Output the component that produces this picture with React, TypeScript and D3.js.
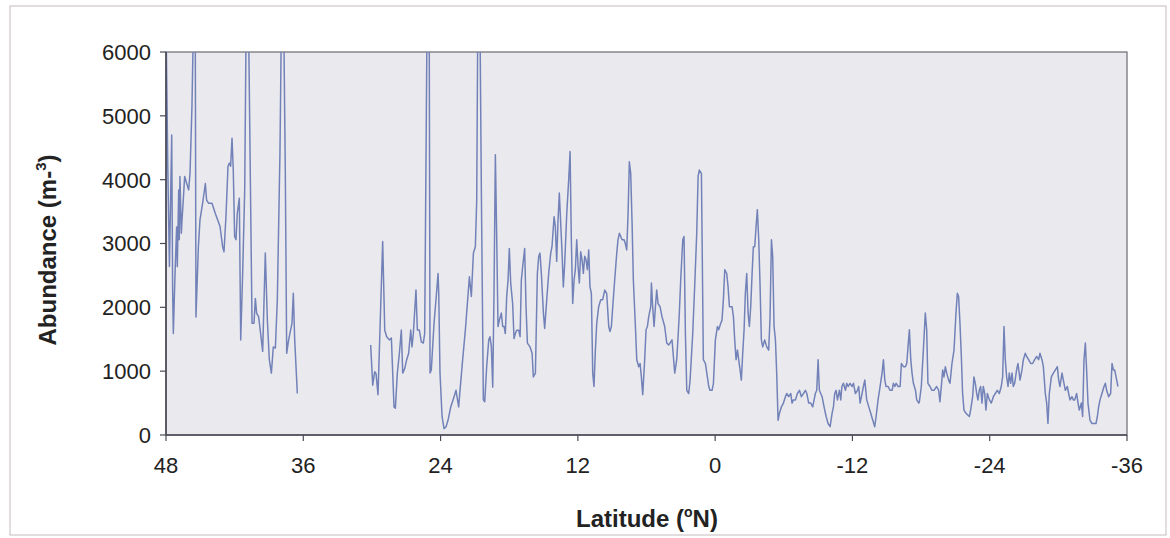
import React from "react";
import * as d3 from "d3";

// Latitude (°N) and abundance (m-3) readings, northern leg (before the gap)
const northLeg: [number, number][] = [
  [48.0, 6500], [47.84, 4150], [47.7, 2640], [47.5, 4700], [47.42, 2270], [47.36, 1590],
  [47.21, 2530], [47.07, 3260], [47.01, 2640], [46.89, 3840], [46.84, 3060], [46.78, 4050],
  [46.66, 3160], [46.6, 3370], [46.49, 3680], [46.37, 4050], [46.19, 3940], [46.02, 3840],
  [45.9, 4100], [45.73, 5150], [45.55, 7000], [45.45, 7000], [45.38, 1850], [45.17, 2950],
  [45.03, 3370], [44.8, 3630], [44.56, 3940], [44.45, 3680], [44.27, 3630], [43.98, 3630],
  [43.69, 3470], [43.28, 3270], [43.05, 2950], [42.93, 2870], [42.76, 3420], [42.58, 4210],
  [42.46, 4260], [42.35, 4210], [42.23, 4650], [42.12, 4150], [42.0, 3110], [41.88, 3060],
  [41.77, 3470], [41.59, 3710], [41.47, 1490], [41.3, 2530], [41.12, 3840], [40.97, 7000],
  [40.82, 7000], [40.48, 1750], [40.31, 1750], [40.19, 2140], [40.08, 1910], [39.9, 1850],
  [39.73, 1590], [39.55, 1310], [39.32, 2850], [39.14, 1800], [38.97, 1180], [38.79, 970],
  [38.62, 1380], [38.44, 1360], [38.27, 2120], [38.04, 4410], [37.88, 7000], [37.74, 7000],
  [37.57, 4100], [37.45, 1280], [37.28, 1490], [36.99, 1750], [36.87, 2220], [36.75, 1490],
  [36.52, 650],
];

// Main leg: 30°N to 20°N
const legA: [number, number][] = [
  [30.11, 1410], [29.93, 780], [29.76, 990], [29.64, 960], [29.47, 630], [29.06, 3030],
  [28.88, 1640], [28.71, 1540], [28.48, 1490], [28.3, 1520], [28.07, 440], [27.95, 420],
  [27.78, 970], [27.6, 1280], [27.43, 1645], [27.31, 970], [27.14, 1040], [26.96, 1180],
  [26.79, 1280], [26.61, 1645], [26.5, 1380], [26.38, 1590], [26.15, 2270], [26.03, 1645],
  [25.86, 1645], [25.68, 1460], [25.51, 1440], [25.39, 1590], [25.16, 7000], [25.0, 7000],
  [24.92, 970], [24.81, 1020], [24.57, 1750], [24.4, 2120], [24.22, 2530], [24.16, 2220],
  [24.05, 970], [23.87, 290], [23.7, 100], [23.52, 130], [23.35, 230], [23.11, 440],
  [22.82, 600], [22.65, 700], [22.42, 440], [22.3, 700], [22.07, 1180], [21.83, 1650],
  [21.48, 2480], [21.31, 2170], [21.13, 2850], [20.96, 2950], [20.84, 3680], [20.73, 7000],
  [20.58, 7000], [20.43, 3730], [20.26, 550], [20.14, 520],
];

// Main leg: 20°N to the equator
const legB: [number, number][] = [
  [19.97, 1070], [19.79, 1490], [19.68, 1540], [19.56, 1380], [19.44, 750], [19.33, 2220],
  [19.21, 4390], [19.09, 3060], [18.98, 1700], [18.86, 1800], [18.69, 1910], [18.57, 1700],
  [18.45, 1700], [18.34, 1590], [18.22, 2170], [18.1, 2430], [17.99, 2920], [17.87, 2380],
  [17.7, 2060], [17.58, 1510], [17.46, 1590], [17.35, 1640], [17.17, 1640], [17.05, 1540],
  [16.94, 2430], [16.82, 2640], [16.65, 2920], [16.53, 2010], [16.41, 1440], [16.18, 1380],
  [16.0, 1280], [15.89, 910], [15.71, 970], [15.54, 2530], [15.42, 2800], [15.31, 2850],
  [15.19, 2530], [15.01, 1910], [14.9, 1670], [14.72, 2120], [14.55, 2530], [14.37, 2850],
  [14.26, 2950], [14.08, 3420], [13.97, 3270], [13.85, 2720], [13.73, 3370], [13.62, 3790],
  [13.5, 3320], [13.38, 2850], [13.27, 2320], [13.15, 2690], [12.97, 3470], [12.8, 4000],
  [12.68, 4440], [12.57, 3060], [12.45, 2060], [12.33, 2430], [12.22, 2590], [12.1, 3060],
  [11.98, 2640], [11.87, 2380], [11.75, 2870], [11.63, 2740], [11.52, 2530], [11.4, 2800],
  [11.28, 2740], [11.17, 2590], [11.05, 2900], [10.94, 2320], [10.82, 2220], [10.7, 970],
  [10.59, 760], [10.47, 1330], [10.35, 1750], [10.18, 2010], [10.0, 2120], [9.83, 2120],
  [9.65, 2270], [9.48, 2220], [9.3, 1700], [9.19, 1620], [9.07, 1700], [8.95, 2010],
  [8.78, 2430], [8.6, 2850], [8.49, 3060], [8.37, 3160], [8.25, 3110], [8.14, 3060],
  [7.96, 3060], [7.85, 3000], [7.73, 2900], [7.61, 3470], [7.5, 4280], [7.38, 4100],
  [7.26, 3320], [7.15, 2430], [6.97, 1700], [6.85, 1180], [6.68, 1070], [6.56, 1120],
  [6.45, 910], [6.33, 630], [6.16, 1180], [6.04, 1650], [5.92, 1700], [5.81, 1850],
  [5.63, 2010], [5.57, 2380], [5.46, 2010], [5.34, 1700], [5.22, 2010], [5.11, 2270],
  [4.99, 2060], [4.82, 2010], [4.64, 1850], [4.41, 1700], [4.23, 1440], [4.06, 1410],
  [3.88, 1460], [3.77, 1490], [3.65, 1230], [3.53, 970], [3.36, 1180], [3.24, 1540],
  [3.13, 1910], [3.01, 2430], [2.83, 3060], [2.72, 3110], [2.6, 1590], [2.48, 700],
  [2.31, 650], [2.19, 860], [1.96, 1590], [1.79, 2320], [1.61, 3160], [1.49, 4050],
  [1.38, 4150], [1.2, 4100], [1.03, 1180], [0.85, 1120], [0.68, 910], [0.56, 760],
  [0.45, 700], [0.27, 700], [0.15, 810],
];

// Main leg: equator to 17°S
const legC: [number, number][] = [
  [-0.02, 1490], [-0.2, 1700], [-0.31, 1650], [-0.49, 1750], [-0.6, 1800], [-0.72, 2120],
  [-0.84, 2590], [-1.01, 2530], [-1.13, 2320], [-1.25, 2010], [-1.3, 2010], [-1.48, 2010],
  [-1.6, 1850], [-1.71, 1490], [-1.83, 1180], [-1.95, 1330], [-2.06, 1180], [-2.18, 1020],
  [-2.29, 860], [-2.41, 1280], [-2.53, 1650], [-2.64, 2220], [-2.76, 2530], [-2.88, 1910],
  [-2.99, 1700], [-3.11, 2010], [-3.23, 2530], [-3.34, 2950], [-3.46, 2950], [-3.58, 3270],
  [-3.69, 3530], [-3.81, 3060], [-3.93, 2320], [-4.04, 1490], [-4.16, 1380], [-4.33, 1490],
  [-4.51, 1380], [-4.68, 1330], [-4.8, 1850], [-4.92, 3060], [-5.03, 2800], [-5.15, 1700],
  [-5.27, 1490], [-5.38, 970], [-5.5, 230], [-5.62, 340], [-5.79, 440], [-5.97, 500],
  [-6.14, 600], [-6.26, 650], [-6.43, 600], [-6.61, 650], [-6.72, 500], [-6.84, 550],
  [-7.02, 550], [-7.19, 650], [-7.37, 700], [-7.54, 600], [-7.72, 650], [-7.89, 700],
  [-8.01, 650], [-8.18, 500], [-8.36, 500], [-8.53, 440], [-8.76, 650], [-8.88, 700],
  [-9.0, 1180], [-9.11, 700], [-9.23, 650], [-9.35, 600], [-9.52, 440], [-9.7, 290],
  [-9.87, 180], [-10.05, 130], [-10.22, 340], [-10.34, 440], [-10.45, 650], [-10.57, 700],
  [-10.69, 550], [-10.86, 700], [-10.98, 550], [-11.08, 760], [-11.21, 810], [-11.39, 700],
  [-11.5, 810], [-11.62, 760], [-11.79, 810], [-11.97, 760], [-12.09, 810], [-12.26, 650],
  [-12.44, 700], [-12.55, 760], [-12.67, 500], [-12.79, 600], [-12.96, 760], [-13.08, 860],
  [-13.25, 550], [-13.43, 440], [-13.6, 340], [-13.78, 230], [-13.95, 130], [-14.07, 290],
  [-14.24, 550], [-14.42, 760], [-14.59, 970], [-14.71, 1180], [-14.83, 860], [-14.94, 760],
  [-15.12, 760], [-15.29, 700], [-15.47, 700], [-15.58, 810], [-15.7, 760], [-15.82, 810],
  [-15.99, 760], [-16.17, 760], [-16.28, 1120], [-16.46, 1070], [-16.63, 1070], [-16.75, 1120],
  [-16.86, 1380], [-16.98, 1650],
];

// Main leg: 17°S to 35°S
const legD: [number, number][] = [
  [-17.1, 1180], [-17.21, 970], [-17.33, 810], [-17.51, 700], [-17.62, 550], [-17.8, 500],
  [-17.85, 520], [-18.02, 760], [-18.2, 1330], [-18.37, 1910], [-18.49, 1650], [-18.6, 810],
  [-18.78, 760], [-18.95, 700], [-19.13, 700], [-19.36, 760], [-19.54, 700], [-19.65, 520],
  [-19.77, 760], [-19.89, 1020], [-20.0, 910], [-20.12, 1070], [-20.24, 970], [-20.41, 860],
  [-20.53, 810], [-20.7, 1120], [-20.88, 1330], [-21.05, 1910], [-21.17, 2220], [-21.28, 2170],
  [-21.4, 1750], [-21.52, 1230], [-21.63, 650], [-21.75, 390], [-21.93, 340], [-22.1, 310],
  [-22.22, 290], [-22.33, 390], [-22.51, 600], [-22.62, 910], [-22.74, 810], [-22.86, 650],
  [-22.97, 550], [-23.09, 700], [-23.21, 760], [-23.32, 500], [-23.44, 760], [-23.56, 650],
  [-23.67, 390], [-23.79, 650], [-23.97, 550], [-24.14, 500], [-24.32, 600], [-24.49, 650],
  [-24.66, 700], [-24.84, 650], [-25.01, 760], [-25.13, 910], [-25.25, 1700], [-25.36, 1180],
  [-25.48, 910], [-25.6, 760], [-25.71, 970], [-25.83, 810], [-25.95, 970], [-26.06, 760],
  [-26.18, 810], [-26.35, 1020], [-26.47, 1120], [-26.65, 860], [-26.82, 1020], [-26.94, 1180],
  [-27.11, 1280], [-27.23, 1230], [-27.4, 1180], [-27.58, 1120], [-27.75, 1120], [-27.93, 1180],
  [-28.1, 1230], [-28.28, 1180], [-28.39, 1280], [-28.57, 1180], [-28.69, 1070], [-28.86, 650],
  [-28.98, 500], [-29.09, 180], [-29.21, 650], [-29.39, 910], [-29.56, 970], [-29.74, 1020],
  [-29.91, 1070], [-30.03, 860], [-30.14, 760], [-30.32, 970], [-30.49, 810], [-30.61, 700],
  [-30.78, 760], [-30.9, 650], [-31.02, 550], [-31.19, 600], [-31.31, 550], [-31.43, 550],
  [-31.6, 650], [-31.72, 500], [-31.83, 390], [-32.01, 500], [-32.12, 290], [-32.24, 1180],
  [-32.36, 1440], [-32.47, 1020], [-32.59, 500], [-32.77, 230], [-32.94, 180], [-33.12, 180],
  [-33.29, 180], [-33.41, 290], [-33.52, 440], [-33.64, 550], [-33.81, 650], [-33.99, 760],
  [-34.11, 810], [-34.22, 700], [-34.4, 600], [-34.57, 650], [-34.69, 1120], [-34.81, 1020],
  [-34.92, 1020], [-35.1, 860], [-35.21, 760],
];

const xTicks = [48, 36, 24, 12, 0, -12, -24, -36];
const yTicks = [0, 1000, 2000, 3000, 4000, 5000, 6000];

const W = 1170;
const H = 538;
const M = { left: 166, right: 1127, top: 52, bottom: 435 };

export default function App() {
  const x = d3.scaleLinear().domain([48, -36]).range([M.left, M.right]);
  const y = d3.scaleLinear().domain([0, 6000]).range([M.bottom, M.top]);
  const line = d3
    .line<[number, number]>()
    .x((d) => x(d[0]))
    .y((d) => y(d[1]));
  const segments = [northLeg, [...legA, ...legB, ...legC, ...legD]];
  const font = "'Liberation Sans', Arial, Helvetica, sans-serif";
  const axisColor = "#4a4a55";

  return (
    <svg
      width={W}
      height={H}
      style={{ position: "absolute", left: 0, top: 0, display: "block", background: "#fff" }}
      fontFamily={font}
    >
      <defs>
        <clipPath id="plotClip">
          <rect x={M.left} y={M.top} width={M.right - M.left} height={M.bottom - M.top} />
        </clipPath>
      </defs>
      <rect x={10} y={6} width={1156} height={529} fill="#fff" stroke="#c4b9be" strokeWidth={1} />
      <rect
        x={M.left}
        y={M.top}
        width={M.right - M.left}
        height={M.bottom - M.top}
        fill="#eaeaee"
        stroke="#6a6a72"
        strokeWidth={1.2}
      />
      <g clipPath="url(#plotClip)">
        {segments.map((seg, i) => (
          <path key={i} d={line(seg) || ""} fill="none" stroke="#7282b8" strokeWidth={1.5} strokeLinejoin="round" />
        ))}
      </g>
      {/* axes */}
      <line x1={M.left} x2={M.left} y1={M.top} y2={M.bottom} stroke={axisColor} strokeWidth={1.6} />
      <line x1={M.left} x2={M.right} y1={M.bottom} y2={M.bottom} stroke={axisColor} strokeWidth={1.6} />
      {yTicks.map((t) => (
        <g key={"y" + t}>
          <line x1={M.left - 6} x2={M.left} y1={y(t)} y2={y(t)} stroke={axisColor} strokeWidth={1.2} />
          <text x={151} y={y(t)} dy="0.36em" textAnchor="end" fontSize={22} fill="#222">
            {t}
          </text>
        </g>
      ))}
      {xTicks.map((t) => (
        <g key={"x" + t}>
          <line x1={x(t)} x2={x(t)} y1={M.bottom} y2={M.bottom + 6} stroke={axisColor} strokeWidth={1.2} />
          <text x={x(t)} y={473} textAnchor="middle" fontSize={22} fill="#222">
            {t}
          </text>
        </g>
      ))}
      <text x={647} y={527} textAnchor="middle" fontSize={24} fontWeight="bold" fill="#222">
        Latitude (<tspan fontSize={14} dy={-10}>o</tspan>
        <tspan dy={10}>N)</tspan>
      </text>
      <text
        transform={`translate(56,250) rotate(-90)`}
        textAnchor="middle"
        fontSize={24}
        fontWeight="bold"
        fill="#222"
      >
        Abundance (m-<tspan fontSize={15} dy={-10}>3</tspan>
        <tspan dy={10}>)</tspan>
      </text>
    </svg>
  );
}
